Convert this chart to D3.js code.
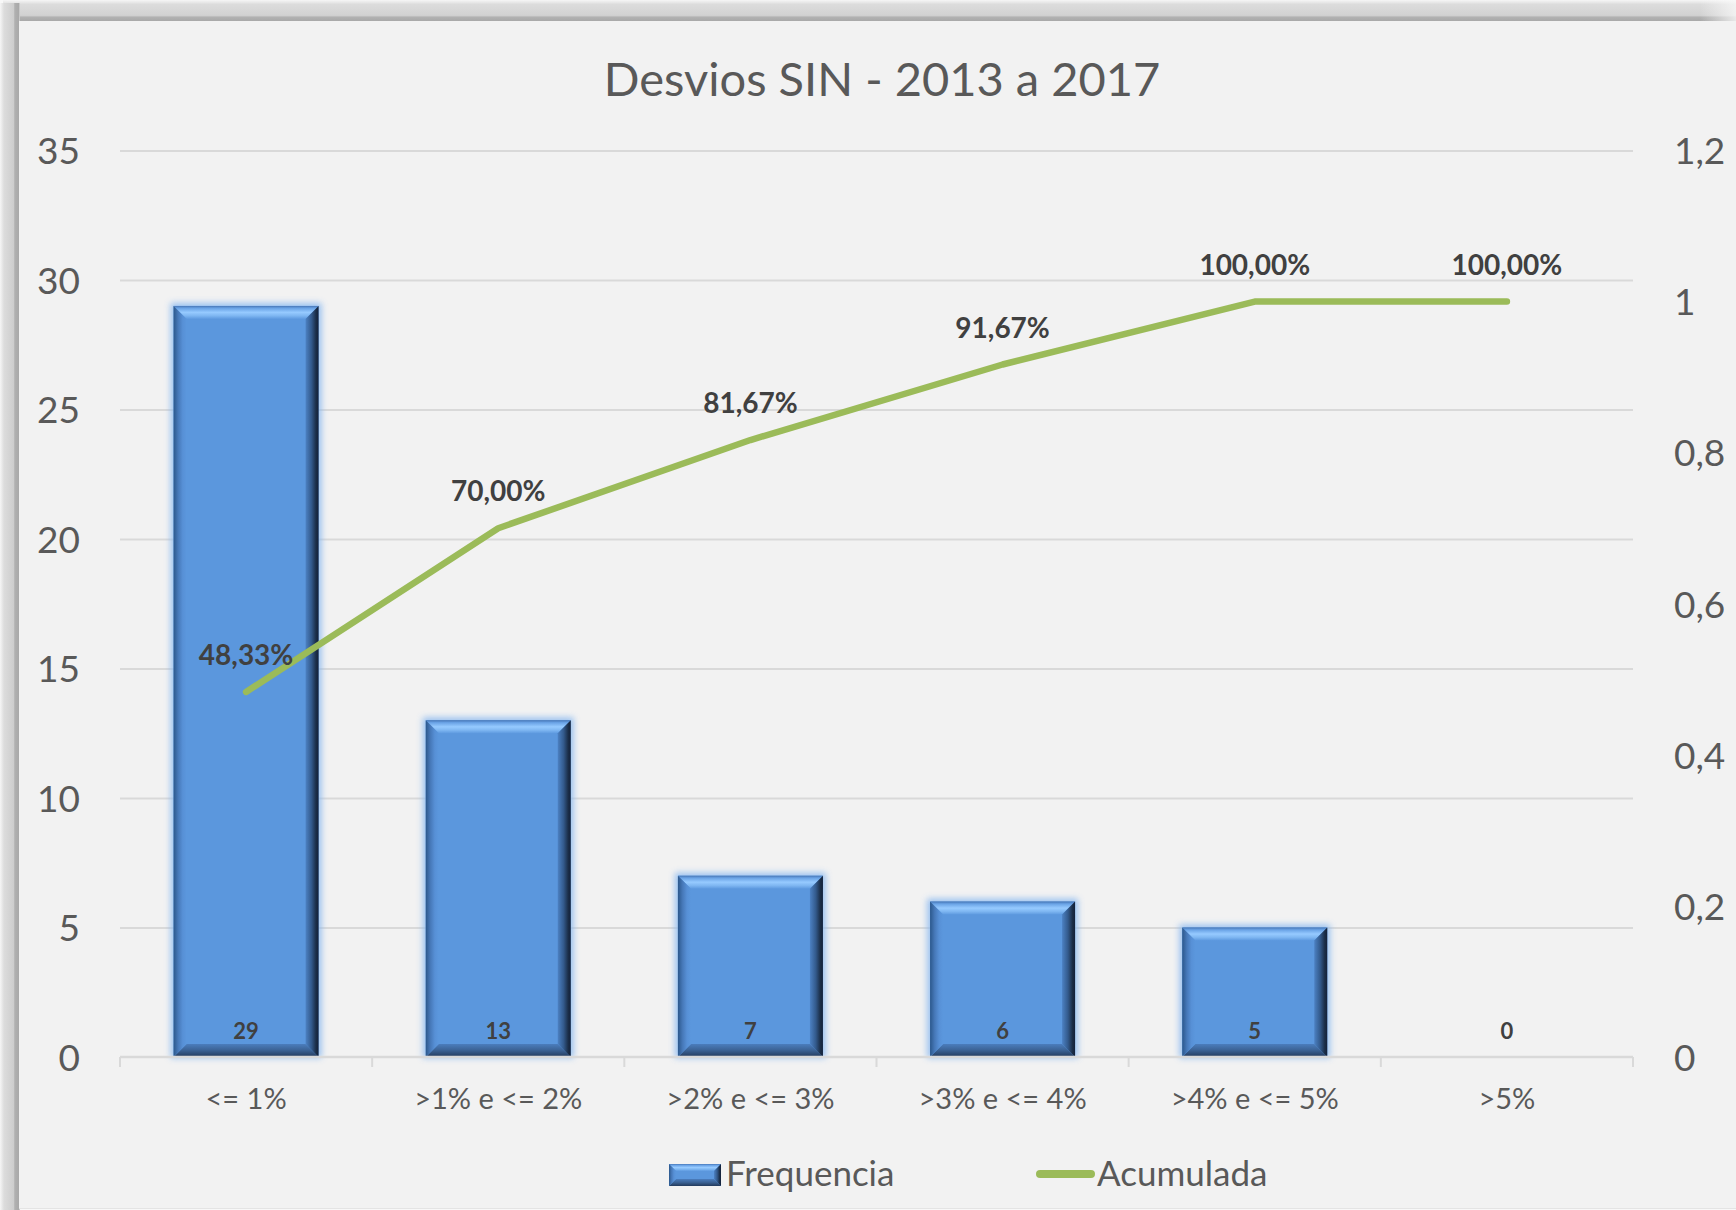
<!DOCTYPE html>
<html>
<head>
<meta charset="utf-8">
<script src="https://cdn.jsdelivr.net/npm/d3@7"></script>
<style>
  html, body { margin: 0; padding: 0; background: #f7f7f7; }
  svg { display: block; }
  text { font-family: Lato, "Open Sans", sans-serif; }
</style>
</head>
<body>
<svg id="chart" width="1736" height="1210"></svg>
<script>
// Distribution of deviations (SIN, 2013-2017)
const categories = ["<= 1%", ">1% e <= 2%", ">2% e <= 3%", ">3% e <= 4%", ">4% e <= 5%", ">5%"];
const frequencia = [29, 13, 7, 6, 5, 0];
const acumulada = [0.4833, 0.70, 0.8167, 0.9167, 1.0, 1.0];
const leftTicks = [0, 5, 10, 15, 20, 25, 30, 35];
const rightTicks = [0, 0.2, 0.4, 0.6, 0.8, 1.0, 1.2];
const titleText = "Desvios SIN - 2013 a 2017";
const seriesNames = ["Frequencia", "Acumulada"];

const W = 1736, H = 1210;
const plot = { left: 120, right: 1633, top: 150.5, bottom: 1057 };

const ptBR = d3.formatLocale({ decimal: ",", thousands: ".", grouping: [3], currency: ["R$", ""] });
const fmtPct = ptBR.format(".2%");
const fmtAxis = d => ptBR.format("~g")(+d.toFixed(2));

const svg = d3.select("#chart");
const defs = svg.append("defs");

// ---------- frame with shadow ----------
const frame = svg.append("g");
frame.append("rect").attr("width", W).attr("height", H).attr("fill", "#f8f8f8");
const gTop = defs.append("linearGradient").attr("id", "shTop").attr("x1", 0).attr("y1", 0).attr("x2", 0).attr("y2", 1);
[[0, "#f6f6f6"], [0.2, "#dcdcdc"], [0.7, "#d2d2d2"], [0.78, "#b2b2b2"], [0.95, "#a9a9a9"], [1, "#e8e8e8"]]
  .forEach(([o, c]) => gTop.append("stop").attr("offset", o).attr("stop-color", c));
const gLeft = defs.append("linearGradient").attr("id", "shLeft").attr("x1", 0).attr("y1", 0).attr("x2", 1).attr("y2", 0);
[[0, "#f6f6f6"], [0.2, "#dcdcdc"], [0.68, "#cdcdcd"], [0.74, "#b0b0b0"], [0.95, "#a8a8a8"], [1, "#e8e8e8"]]
  .forEach(([o, c]) => gLeft.append("stop").attr("offset", o).attr("stop-color", c));
const gFadeR = defs.append("linearGradient").attr("id", "fadeR").attr("x1", 0).attr("y1", 0).attr("x2", 1).attr("y2", 0);
gFadeR.append("stop").attr("offset", 0).attr("stop-color", "#f8f8f8").attr("stop-opacity", 0);
gFadeR.append("stop").attr("offset", 1).attr("stop-color", "#f8f8f8").attr("stop-opacity", 0.8);
frame.append("rect").attr("x", 3).attr("y", 0).attr("width", W - 3).attr("height", 22).attr("fill", "url(#shTop)");
frame.append("rect").attr("x", 0).attr("y", 3).attr("width", 20).attr("height", H - 3).attr("fill", "url(#shLeft)");
frame.append("rect").attr("x", 1700).attr("y", 0).attr("width", 36).attr("height", 22).attr("fill", "url(#fadeR)");
frame.append("rect").attr("x", 19).attr("y", 21).attr("width", W - 19).attr("height", 1187).attr("fill", "#f2f2f2");
frame.append("line").attr("x1", 19).attr("x2", W).attr("y1", 1208.5).attr("y2", 1208.5).attr("stroke", "#e4e4e4").attr("stroke-width", 1);

// ---------- scales ----------
const x = d3.scaleBand().domain(categories).range([plot.left, plot.right]).paddingInner(0.425).paddingOuter(0.2125);
const yL = d3.scaleLinear().domain([0, 35]).range([plot.bottom, plot.top]);
const yR = d3.scaleLinear().domain([0, 1.2]).range([plot.bottom, plot.top]);

// ---------- gridlines ----------
svg.append("g")
  .attr("transform", `translate(${plot.left},0)`)
  .call(d3.axisLeft(yL).tickValues(leftTicks.filter(d => d > 0)).tickSize(-(plot.right - plot.left)).tickFormat(""))
  .call(g => g.select(".domain").remove())
  .call(g => g.selectAll("line").attr("stroke", "#d9d9d9").attr("stroke-width", 2));

// ---------- title ----------
svg.append("text").attr("x", 882).attr("y", 96).attr("text-anchor", "middle")
  .attr("font-size", 47).attr("fill", "#595959").text(titleText);

// ---------- y axes labels ----------
svg.append("g").attr("transform", "translate(80,0)")
  .call(d3.axisLeft(yL).tickValues(leftTicks).tickSize(0).tickPadding(0).tickFormat(d => String(d)))
  .call(g => g.select(".domain").remove())
  .call(g => g.selectAll("text").attr("font-size", 37).attr("fill", "#595959").attr("dy", "0.36em")
    .attr("font-family", "Lato, 'Open Sans', sans-serif"));

svg.append("g").attr("transform", "translate(1674,0)")
  .call(d3.axisRight(yR).tickValues(rightTicks).tickSize(0).tickPadding(0).tickFormat(fmtAxis))
  .call(g => g.select(".domain").remove())
  .call(g => g.selectAll("text").attr("font-size", 37).attr("fill", "#595959").attr("dy", "0.36em")
    .attr("font-family", "Lato, 'Open Sans', sans-serif"));

// ---------- bevel gradients ----------
function grad(id, x1, y1, x2, y2, stops) {
  const g = defs.append("linearGradient").attr("id", id)
    .attr("x1", x1).attr("y1", y1).attr("x2", x2).attr("y2", y2);
  stops.forEach(([o, c]) => g.append("stop").attr("offset", o).attr("stop-color", c));
}
grad("bvTop", 0, 0, 0, 1, [[0, "#4676b6"], [0.18, "#6aa3e6"], [0.5, "#96caff"], [0.75, "#7fb7f2"], [1, "#5e9ae0"]]);
grad("bvLeft", 0, 0, 1, 0, [[0, "#2c588c"], [0.35, "#4678b8"], [0.7, "#5790d6"], [1, "#5b97dd"]]);
grad("bvRight", 0, 0, 1, 0, [[0, "#4c81c3"], [0.45, "#335a8c"], [0.8, "#1b2e48"], [1, "#13213a"]]);
grad("bvBottom", 0, 0, 0, 1, [[0, "#4b7dbd"], [0.5, "#3a6193"], [1, "#233a5c"]]);

const glow = defs.append("filter").attr("id", "glow").attr("x", "-20%").attr("y", "-20%").attr("width", "140%").attr("height", "140%");
glow.append("feGaussianBlur").attr("stdDeviation", 3);

const MAIN = "#5b97dd";

function bevelBar(g, x0, y0, x1, y1, b) {
  b = Math.min(b, (y1 - y0) / 2, (x1 - x0) / 2);
  const P = pts => pts.map(p => p.join(",")).join(" ");
  g.append("rect").attr("x", x0).attr("y", y0).attr("width", x1 - x0).attr("height", y1 - y0).attr("fill", MAIN);
  g.append("polygon").attr("points", P([[x0, y0], [x1, y0], [x1 - b, y0 + b], [x0 + b, y0 + b]])).attr("fill", "url(#bvTop)");
  g.append("polygon").attr("points", P([[x0, y1], [x1, y1], [x1 - b, y1 - b], [x0 + b, y1 - b]])).attr("fill", "url(#bvBottom)");
  g.append("polygon").attr("points", P([[x0, y0], [x0 + b, y0 + b], [x0 + b, y1 - b], [x0, y1]])).attr("fill", "url(#bvLeft)");
  g.append("polygon").attr("points", P([[x1, y0], [x1 - b, y0 + b], [x1 - b, y1 - b], [x1, y1]])).attr("fill", "url(#bvRight)");
}

// ---------- bars ----------
const barsG = svg.append("g");
categories.forEach((c, i) => {
  const v = frequencia[i];
  if (v <= 0) return;
  const x0 = x(c), x1 = x(c) + x.bandwidth();
  const y0 = yL(v), y1 = yL(0);
  const g = barsG.append("g");
  g.append("rect").attr("x", x0 - 3).attr("y", y0 - 3).attr("width", x1 - x0 + 6).attr("height", y1 - y0 + 4)
    .attr("fill", "#8cbaf0").attr("opacity", 0.85).attr("filter", "url(#glow)");
  bevelBar(g, x0, y0, x1, y1, 13);
});

// ---------- x axis ----------
svg.append("line").attr("x1", plot.left).attr("x2", plot.right).attr("y1", plot.bottom).attr("y2", plot.bottom)
  .attr("stroke", "#d9d9d9").attr("stroke-width", 2.5);
const step = x.step();
d3.range(categories.length + 1).forEach(i => {
  const xx = plot.left + i * step;
  svg.append("line").attr("x1", xx).attr("x2", xx).attr("y1", plot.bottom).attr("y2", plot.bottom + 10)
    .attr("stroke", "#d9d9d9").attr("stroke-width", 2);
});
svg.append("g").attr("transform", `translate(0,${plot.bottom})`)
  .call(d3.axisBottom(x).tickSize(0).tickPadding(31))
  .call(g => g.select(".domain").remove())
  .call(g => g.selectAll("text").attr("font-size", 29).attr("fill", "#595959")
    .attr("font-family", "Lato, 'Open Sans', sans-serif"));

// value labels inside bars
svg.append("g").selectAll("text").data(categories).join("text")
  .attr("x", d => x(d) + x.bandwidth() / 2)
  .attr("y", 1039)
  .attr("text-anchor", "middle").attr("font-size", 22).attr("font-weight", "bold").attr("fill", "#404040")
  .text((d, i) => frequencia[i]);

// ---------- cumulative line ----------
const lineGen = d3.line().x((d, i) => x(categories[i]) + x.bandwidth() / 2).y(d => yR(d));
svg.append("path").datum(acumulada).attr("d", lineGen)
  .attr("fill", "none").attr("stroke", "#9bbb59").attr("stroke-width", 6.5)
  .attr("stroke-linecap", "round").attr("stroke-linejoin", "round");

svg.append("g").selectAll("text").data(acumulada).join("text")
  .attr("x", (d, i) => x(categories[i]) + x.bandwidth() / 2)
  .attr("y", d => yR(d) - 27)
  .attr("text-anchor", "middle").attr("font-size", 28).attr("font-weight", "bold").attr("fill", "#404040")
  .text(d => fmtPct(d));

// ---------- legend ----------
const leg = svg.append("g");
bevelBar(leg, 669, 1164, 721, 1186, 7);
leg.append("text").attr("x", 726).attr("y", 1186).attr("font-size", 35).attr("fill", "#595959").text(seriesNames[0]);
leg.append("line").attr("x1", 1040).attr("x2", 1091).attr("y1", 1174).attr("y2", 1174)
  .attr("stroke", "#9bbb59").attr("stroke-width", 8).attr("stroke-linecap", "round");
leg.append("text").attr("x", 1097).attr("y", 1186).attr("font-size", 35).attr("fill", "#595959").text(seriesNames[1]);
</script>
</body>
</html>
